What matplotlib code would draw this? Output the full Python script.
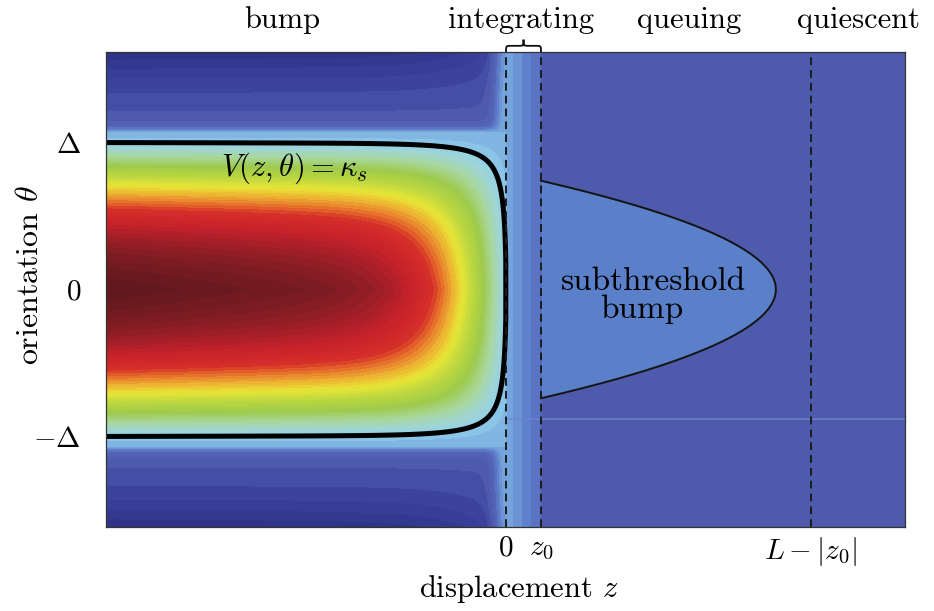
import numpy as np
import matplotlib
matplotlib.use("Agg")
import matplotlib.pyplot as plt
import matplotlib.transforms as mtransforms
from matplotlib.colors import LinearSegmentedColormap
from matplotlib.path import Path
from matplotlib.patches import PathPatch

plt.rcParams["font.family"] = ["cmr10", "DejaVu Serif"]
plt.rcParams["mathtext.fontset"] = "cm"
plt.rcParams["axes.unicode_minus"] = False

# ---------------- domain and marked positions ----------------
Z_MIN, Z_MAX = -11.43, 11.4        # displacement range
THETA_MAX = 1.616                  # orientation range is [-THETA_MAX, THETA_MAX]
DELTA = 1.0                        # bump half-width in orientation
Z0 = 1.0                           # end of the integrating zone
Z_QUIET = 8.7                      # start of the quiescent zone

region_names = ["bump", "integrating", "queuing", "quiescent"]
region_x_px = [282, 521, 689, 858]           # label centres (figure pixels)

xtick_values = [0.0, Z0, Z_QUIET]
xtick_labels = [r"$0$", r"$z_0$", r"$L-|z_0|$"]
ytick_values = [-DELTA, 0.0, DELTA]
ytick_labels = [r"$-\Delta$", r"$0$", r"$\Delta$"]

# ---------------- activity field V(z, theta) ----------------
KAPPA_EDGE = 0.115     # value on the bump's rectangular edge
KAPPA_S = 0.153        # threshold level
BUMP_AMP = 0.80
Z_EDGE, TH_EDGE = 0.23, 1.07
Z_SCALE, Z_POW, Z_TILT = 1.85, 1.35, 0.12
TH_SCALE, TH_POW = 0.52, 1.51
FRINGE = 0.035
TROUGH_DEPTH, TROUGH_POW = 0.088, 2.0
STRIPE_PEAK, STRIPE_WIDTH, STRIPE_DECAY = 0.11, 0.35, 0.6

# subthreshold bump travelling ahead of the front
SUB_HALF_WIDTH = 0.74
SUB_REACH = 7.71
SEAM_THETA = -0.88

z = np.linspace(Z_MIN, Z_MAX, 1500)
th = np.linspace(-THETA_MAX, THETA_MAX, 900)
Zg, Tg = np.meshgrid(z, th)

p = np.clip(Z_EDGE - Zg, 0, None)
p_max = Z_EDGE - Z_MIN
q = TH_EDGE - np.abs(Tg)
P = (1 - np.exp(-(p / Z_SCALE) ** Z_POW)) * (1 - Z_TILT + Z_TILT * p / p_max)
Q = 1 - np.exp(-(np.clip(q, 0, None) / TH_SCALE) ** TH_POW)

stripe = np.where(Zg < 0, STRIPE_PEAK * np.exp(-(Zg / STRIPE_WIDTH) ** 2),
                  np.where(Zg < Z0, STRIPE_PEAK * (1 - STRIPE_DECAY * Zg / Z0), 0.0))
r = np.clip(-q, 0, None)
r_max = THETA_MAX - TH_EDGE
fade = np.exp(-r / FRINGE)
trough = TROUGH_DEPTH * P ** 0.6 * (r / r_max) ** TROUGH_POW
outer = stripe + (KAPPA_EDGE - stripe) * fade - (1 - fade) * trough
inner = KAPPA_EDGE + BUMP_AMP * P * Q
V = np.where(Zg < 0, np.where(q > 0, inner, outer), stripe)

# ---------------- colour scale ----------------
cmap_values = [-0.088, -0.05, -0.02, 0.0, 0.04, 0.07, 0.11, 0.153, 0.19, 0.25,
               0.32, 0.40, 0.47, 0.53, 0.58, 0.63, 0.70, 0.75, 0.80, 0.875]
cmap_colors = ["#2d3282", "#363d96", "#3e47a1", "#4e5aab", "#5566b9", "#5f80cc",
               "#79a9df", "#92d1ea", "#a0d5d4", "#a9d79a", "#9dca4b", "#bcd740",
               "#e8e536", "#eeb032", "#e6732b", "#d52e2a", "#c8222a", "#a81f28",
               "#861c24", "#5e171d"]
vmin, vmax = cmap_values[0], cmap_values[-1]
nodes = [(v - vmin) / (vmax - vmin) for v in cmap_values]
cmap = LinearSegmentedColormap.from_list("field", list(zip(nodes, cmap_colors)))
levels = np.linspace(vmin, vmax, 58)

# ---------------- figure ----------------
W, H = 934, 611
fig = plt.figure(figsize=(W / 100, H / 100), dpi=100)
ax = fig.add_axes([106 / W, (H - 527) / H, 799 / W, 475 / H])

ax.contourf(Zg, Tg, V, levels=levels, cmap=cmap, vmin=vmin, vmax=vmax,
            extend="both")
ax.contour(Zg, Tg, V, levels=[KAPPA_S], colors="k", linewidths=3.6)

# faint seam across the right half
ax.plot([0.0, Z_MAX], [SEAM_THETA, SEAM_THETA], color="#6f86d2", lw=1.2,
        alpha=0.8, zorder=2)

# subthreshold bump
sub_th = np.linspace(-SUB_HALF_WIDTH, SUB_HALF_WIDTH, 300)
sub_z = Z0 + (SUB_REACH - Z0) * (1 - (sub_th / SUB_HALF_WIDTH) ** 2)
ax.fill_betweenx(sub_th, Z0, sub_z, color="#5a80c9", lw=0, zorder=3)
ax.plot(sub_z, sub_th, color="#141414", lw=1.4, zorder=4)

# zone boundaries
for xv in xtick_values:
    ax.axvline(xv, color="#1c1c1c", lw=1.4, ls=(0, (4, 2.6)), zorder=5)

ax.set_xlim(Z_MIN, Z_MAX)
ax.set_ylim(-THETA_MAX, THETA_MAX)
ax.set_xticks(xtick_values)
ax.set_xticklabels(xtick_labels, fontsize=21)
ax.set_yticks(ytick_values)
ax.set_yticklabels(ytick_labels, fontsize=21)
ax.tick_params(axis="both", length=0)
ax.tick_params(axis="x", pad=6)
ax.tick_params(axis="y", pad=18)
for s in ax.spines.values():
    s.set_color("#333333")
    s.set_linewidth(0.9)

ax.set_xlabel(r"displacement $z$", fontsize=22)
ax.xaxis.set_label_coords((519 - 106) / 799, -0.097)
ax.set_ylabel(r"orientation $\theta$", fontsize=23)
ax.yaxis.set_label_coords(-0.078, 0.53)

# brace over the integrating zone
trans = mtransforms.blended_transform_factory(ax.transData, ax.transAxes)
x0, x1 = 0.0, Z0
xm = 0.5 * (x0 + x1)
w = 0.14 * (x1 - x0)
y0, h = 1.0, 0.026
ym = y0 + 0.5 * h
verts = [(x0, y0), (x0, ym), (x0, ym), (x0 + w, ym),
         (xm - w, ym),
         (xm, ym), (xm, ym), (xm, y0 + h),
         (xm, ym), (xm, ym), (xm + w, ym),
         (x1 - w, ym),
         (x1, ym), (x1, ym), (x1, y0)]
codes = [Path.MOVETO, Path.CURVE4, Path.CURVE4, Path.CURVE4,
         Path.LINETO,
         Path.CURVE4, Path.CURVE4, Path.CURVE4,
         Path.CURVE4, Path.CURVE4, Path.CURVE4,
         Path.LINETO,
         Path.CURVE4, Path.CURVE4, Path.CURVE4]
ax.add_patch(PathPatch(Path(verts, codes), transform=trans, fill=False,
                       lw=1.3, color="#111111", clip_on=False))

# zone names along the top
for name, xpx in zip(region_names, region_x_px):
    fig.text(xpx / W, 1 - 28 / H, name, fontsize=22, ha="center",
             va="baseline")

# in-plot annotations
fig.text(294 / W, 1 - 168 / H, r"$V(z,\theta)=\kappa_s$", fontsize=22,
         ha="center", va="center")
fig.text(653 / W, 1 - 290 / H, "subthreshold", fontsize=24, ha="center",
         va="baseline")
fig.text(642 / W, 1 - 318 / H, "bump", fontsize=24, ha="center",
         va="baseline")

fig.savefig("out.png", dpi=100)
